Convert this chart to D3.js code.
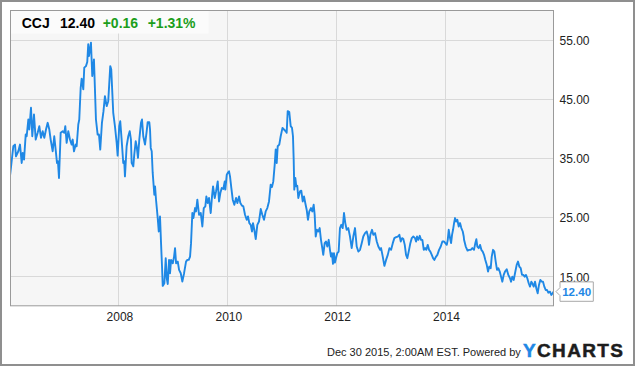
<!DOCTYPE html>
<html><head><meta charset="utf-8">
<script src="https://cdn.jsdelivr.net/npm/d3@7"></script>
<style>html,body{margin:0;padding:0;background:#fff;}svg{display:block;font-family:"Liberation Sans",Arial,sans-serif;}</style>
</head><body>
<script>
// ---- data (decimal year, price) ----
const years = [2005.99,2006.048,2006.079,2006.097,2006.140,2006.171,2006.202,2006.221,2006.245,2006.276,2006.294,2006.324,2006.342,2006.373,2006.397,2006.428,2006.460,2006.496,2006.526,2006.557,2006.588,2006.618,2006.649,2006.680,2006.710,2006.735,2006.772,2006.801,2006.833,2006.851,2006.869,2006.888,2006.919,2006.956,2006.985,2007.004,2007.029,2007.059,2007.090,2007.121,2007.140,2007.164,2007.195,2007.213,2007.243,2007.261,2007.287,2007.305,2007.335,2007.353,2007.384,2007.408,2007.426,2007.439,2007.458,2007.476,2007.500,2007.531,2007.568,2007.599,2007.623,2007.647,2007.678,2007.706,2007.733,2007.765,2007.794,2007.831,2007.849,2007.886,2007.917,2007.949,2007.967,2007.996,2008.015,2008.040,2008.070,2008.088,2008.101,2008.132,2008.162,2008.188,2008.211,2008.224,2008.254,2008.272,2008.298,2008.316,2008.340,2008.364,2008.395,2008.414,2008.437,2008.469,2008.500,2008.518,2008.548,2008.561,2008.574,2008.592,2008.610,2008.640,2008.653,2008.671,2008.702,2008.721,2008.744,2008.763,2008.781,2008.794,2008.824,2008.849,2008.868,2008.886,2008.910,2008.928,2008.947,2008.978,2009.002,2009.020,2009.039,2009.070,2009.094,2009.125,2009.154,2009.186,2009.222,2009.246,2009.272,2009.296,2009.314,2009.338,2009.357,2009.388,2009.406,2009.430,2009.461,2009.493,2009.522,2009.548,2009.577,2009.596,2009.621,2009.645,2009.676,2009.700,2009.719,2009.750,2009.774,2009.805,2009.829,2009.853,2009.879,2009.908,2009.934,2009.945,2009.971,2009.989,2010.013,2010.031,2010.055,2010.081,2010.110,2010.142,2010.166,2010.197,2010.221,2010.252,2010.276,2010.307,2010.338,2010.362,2010.386,2010.412,2010.436,2010.454,2010.478,2010.504,2010.533,2010.564,2010.596,2010.625,2010.656,2010.687,2010.717,2010.748,2010.779,2010.803,2010.827,2010.853,2010.871,2010.890,2010.908,2010.937,2010.963,2010.996,2011.024,2011.055,2011.073,2011.092,2011.121,2011.147,2011.171,2011.189,2011.202,2011.213,2011.232,2011.250,2011.268,2011.287,2011.318,2011.342,2011.368,2011.392,2011.415,2011.441,2011.465,2011.489,2011.520,2011.544,2011.570,2011.588,2011.607,2011.630,2011.654,2011.680,2011.704,2011.728,2011.746,2011.772,2011.796,2011.820,2011.846,2011.869,2011.888,2011.906,2011.925,2011.943,2011.961,2011.980,2012.004,2012.029,2012.053,2012.077,2012.103,2012.127,2012.151,2012.176,2012.206,2012.237,2012.268,2012.298,2012.329,2012.360,2012.390,2012.421,2012.452,2012.481,2012.513,2012.544,2012.568,2012.586,2012.610,2012.641,2012.665,2012.697,2012.728,2012.757,2012.789,2012.807,2012.838,2012.868,2012.899,2012.930,2012.960,2012.991,2013.022,2013.051,2013.083,2013.114,2013.143,2013.169,2013.193,2013.217,2013.242,2013.266,2013.290,2013.321,2013.345,2013.371,2013.400,2013.431,2013.450,2013.468,2013.492,2013.518,2013.542,2013.566,2013.592,2013.616,2013.640,2013.665,2013.689,2013.713,2013.739,2013.763,2013.787,2013.812,2013.842,2013.873,2013.904,2013.934,2013.965,2013.989,2014.015,2014.033,2014.051,2014.075,2014.094,2014.112,2014.130,2014.149,2014.167,2014.186,2014.209,2014.235,2014.259,2014.283,2014.309,2014.327,2014.333,2014.364,2014.397,2014.425,2014.456,2014.485,2014.516,2014.540,2014.559,2014.577,2014.603,2014.627,2014.651,2014.676,2014.700,2014.724,2014.750,2014.774,2014.798,2014.823,2014.842,2014.866,2014.890,2014.915,2014.939,2014.963,2014.989,2015.013,2015.037,2015.062,2015.086,2015.118,2015.147,2015.178,2015.197,2015.220,2015.246,2015.270,2015.301,2015.325,2015.349,2015.375,2015.399,2015.423,2015.448,2015.472,2015.496,2015.522,2015.546,2015.570,2015.588,2015.614,2015.638,2015.662,2015.687,2015.711,2015.735,2015.761,2015.785,2015.809,2015.834,2015.858,2015.882,2015.914,2015.938,2015.963,2015.978];
const prices = [32.17,36.97,37.25,35.27,36.12,37.25,34.15,35.85,34.71,38.95,38.66,41.49,39.80,43.47,38.66,42.34,38.10,39.24,40.36,38.39,39.51,38.39,39.80,40.93,39.80,38.10,36.12,38.66,35.85,34.15,34.42,31.61,39.24,39.51,39.24,40.36,37.54,39.51,38.10,37.25,38.10,36.12,37.25,36.97,40.64,41.49,46.86,48.39,46.58,50.25,50.52,51.20,54.20,52.22,53.36,54.49,48.83,51.66,41.49,38.95,38.95,36.41,40.93,42.85,45.44,43.75,44.59,50.52,49.97,42.63,40.36,37.54,35.39,40.36,41.20,38.10,34.15,34.42,31.88,36.97,38.66,39.51,38.10,34.15,33.58,35.56,37.81,36.97,35.00,38.10,40.93,41.49,38.66,37.25,39.51,41.03,41.03,39.80,36.69,36.12,32.46,28.78,30.19,27.93,24.83,22.56,25.10,20.59,16.63,13.36,13.81,18.05,14.66,13.69,17.76,15.51,17.76,17.20,18.32,19.75,17.20,17.47,16.07,15.51,14.08,15.51,17.47,17.76,17.76,18.32,20.59,25.68,24.83,26.52,25.95,27.93,25.39,25.68,23.41,26.52,26.80,28.49,27.37,28.22,25.68,28.49,30.19,28.22,29.34,31.03,27.64,29.07,29.92,29.75,31.03,29.63,32.17,32.46,32.73,31.88,29.92,27.93,27.08,28.22,27.37,28.49,27.37,26.92,26.80,25.39,24.54,25.10,23.98,23.69,22.56,23.98,22.85,21.27,23.69,24.25,26.36,25.39,24.54,25.95,26.52,27.64,30.47,30.08,31.03,33.86,36.41,34.15,36.97,37.25,38.66,40.08,39.80,39.51,39.24,42.90,42.73,40.36,40.08,38.66,34.71,29.63,31.61,30.19,30.30,28.22,29.34,29.46,27.64,28.49,27.37,26.24,24.54,25.95,26.52,25.95,27.08,25.39,21.71,22.85,22.56,23.14,21.15,19.75,18.61,20.59,20.87,20.02,21.15,19.46,18.32,18.90,17.08,18.90,17.31,18.05,18.90,19.17,23.14,23.69,23.14,25.68,23.98,22.85,23.14,21.71,19.75,21.71,23.14,20.02,19.17,19.46,20.59,21.71,22.29,22.56,21.71,20.30,22.00,22.85,22.00,22.29,20.87,20.02,19.46,19.75,18.32,16.75,17.76,18.61,19.75,19.46,20.59,21.44,21.61,21.71,22.00,20.87,21.44,21.27,20.30,18.61,18.05,19.46,20.59,21.44,21.71,21.44,20.87,21.71,21.15,21.83,21.15,21.15,19.46,19.75,19.46,20.30,19.46,19.17,18.61,18.05,17.76,18.22,18.61,19.46,20.02,20.87,20.87,20.59,20.30,21.15,22.85,21.44,20.59,22.00,22.85,23.98,24.83,24.25,24.54,23.41,23.98,23.14,22.56,21.71,21.15,20.02,19.34,19.46,19.46,19.75,19.46,20.59,21.27,20.02,19.75,20.30,19.46,19.17,18.61,17.76,16.92,15.78,16.63,16.36,18.32,19.46,19.17,17.47,16.07,16.36,15.78,14.93,14.08,15.22,15.78,16.19,15.22,14.66,14.08,14.93,14.37,15.51,16.92,17.47,16.63,16.36,15.22,15.22,14.93,15.22,14.66,13.81,13.24,14.08,13.81,13.24,14.08,12.97,12.12,13.52,14.37,14.08,14.08,13.24,12.68,12.68,12.22,12.39,11.83,12.12,12.40];
const yTicks = [15, 25, 35, 45, 55];
const xTickYears = [2008, 2010, 2012, 2014];
const ticker = "CCJ", lastPrice = "12.40", change = "+0.16", changePct = "+1.31%";
const footerText = "Dec 30 2015, 2:00AM EST. Powered by";

function decToDate(d){ const y = Math.floor(d); const s = Date.UTC(y,0,1), e = Date.UTC(y+1,0,1); return new Date(s + (d - y) * (e - s)); }
const data = years.map((t,i) => ({date: decToDate(t), v: prices[i]}));

const W = 635, H = 366;
const L = 10, R = 553.5, T = 10, B = 305.8;
const BLUE = "#1f88e5";

const svg = d3.select("body").append("svg").attr("width", W).attr("height", H);
svg.append("rect").attr("x",1).attr("y",1).attr("width",W-2).attr("height",H-2).attr("fill","#fff").attr("stroke","#8f8f8f").attr("stroke-width",2);

const x = d3.scaleUtc().domain([decToDate(2005.987), decToDate(2015.978)]).range([L, R]);
const y = d3.scaleLinear().domain([10, 60]).range([B, T]);

svg.append("rect").attr("x",L).attr("y",T).attr("width",R-L).attr("height",B-T).attr("fill","#f6f6f6");

const xTicks = xTickYears.map(yr => new Date(Date.UTC(yr,0,1)));
svg.append("g").selectAll("line").data(yTicks).join("line")
  .attr("x1",L).attr("x2",R).attr("y1",d=>Math.round(y(d))+0.5).attr("y2",d=>Math.round(y(d))+0.5)
  .attr("stroke","#d9d9d9").attr("stroke-width",1);
svg.append("g").selectAll("line").data(xTicks).join("line")
  .attr("x1",d=>Math.round(x(d))-0.5).attr("x2",d=>Math.round(x(d))-0.5).attr("y1",T).attr("y2",B)
  .attr("stroke","#d9d9d9").attr("stroke-width",1);

// header box
svg.append("rect").attr("x",L+0.5).attr("y",T+0.5).attr("width",198).attr("height",23).attr("fill","#fbfbfb");

svg.append("defs").append("clipPath").attr("id","clip").append("rect").attr("x",L).attr("y",T).attr("width",R-L).attr("height",B-T);
const line = d3.line().x(d=>x(d.date)).y(d=>y(d.v)).curve(d3.curveLinear);
svg.append("path").datum(data).attr("clip-path","url(#clip)").attr("d",line)
  .attr("fill","none").attr("stroke",BLUE).attr("stroke-width",1.9).attr("stroke-linejoin","round");

// frame
svg.append("rect").attr("x",L+0.5).attr("y",T+0.5).attr("width",R-L-0.5).attr("height",B-T-0.5).attr("fill","none").attr("stroke","#9a9a9a").attr("stroke-width",1);

// axes
const yAxis = d3.axisRight(y).tickValues(yTicks).tickFormat(d3.format(".2f")).tickSize(0).tickPadding(6);
const gy = svg.append("g").attr("transform",`translate(${R},0)`).call(yAxis);
gy.select(".domain").remove();
gy.selectAll("text").attr("font-size",12).attr("fill","#222").attr("font-family","Liberation Sans, Arial, sans-serif").attr("dy","0.4em");

const xAxis = d3.axisBottom(x).tickValues(xTicks).tickFormat(d3.utcFormat("%Y")).tickSize(0).tickPadding(7);
const gx = svg.append("g").attr("transform",`translate(0,${B})`).call(xAxis);
gx.select(".domain").remove();
gx.selectAll("text").attr("font-size",12).attr("fill","#222").attr("font-family","Liberation Sans, Arial, sans-serif");

// header text
const ht = svg.append("text").attr("y",28.3).attr("font-size",14).attr("font-weight","bold");
ht.append("tspan").attr("x",21.7).attr("fill","#000").text(ticker);
ht.append("tspan").attr("x",60).attr("fill","#000").text(lastPrice);
ht.append("tspan").attr("x",102.7).attr("fill","#1c9e1c").text(change);
ht.append("tspan").attr("x",147.7).attr("fill","#1c9e1c").text(changePct);

// last value label
const last = data[data.length-1];
const ly = y(last.v);
const bx = 560, bw = 33.3, bh = 19.4;
svg.append("path")
  .attr("d", `M${bx-4},${ly} L${bx},${ly-4} L${bx},${ly-bh/2} L${bx+bw},${ly-bh/2} L${bx+bw},${ly+bh/2} L${bx},${ly+bh/2} L${bx},${ly+4} Z`)
  .attr("fill","#fff").attr("stroke","#a8a8a8").attr("stroke-width",1);
svg.append("text").attr("x",bx+bw/2).attr("y",ly+4.3).attr("text-anchor","middle")
  .attr("font-size",11.6).attr("font-weight","bold").attr("fill",BLUE).text(d3.format(".2f")(last.v));

// footer
svg.append("text").attr("x",327).attr("y",356).attr("font-size",11).attr("fill","#222").text(footerText);
const logo = svg.append("text").attr("x",523).attr("y",356.7).attr("font-size",19).attr("font-weight","bold")
  .attr("stroke-width",0.5).attr("textLength",100).attr("lengthAdjust","spacing");
logo.append("tspan").attr("fill",BLUE).attr("stroke",BLUE).text("Y");
logo.append("tspan").attr("fill","#1d1d1d").attr("stroke","#1d1d1d").text("CHARTS");
</script>
</body></html>
